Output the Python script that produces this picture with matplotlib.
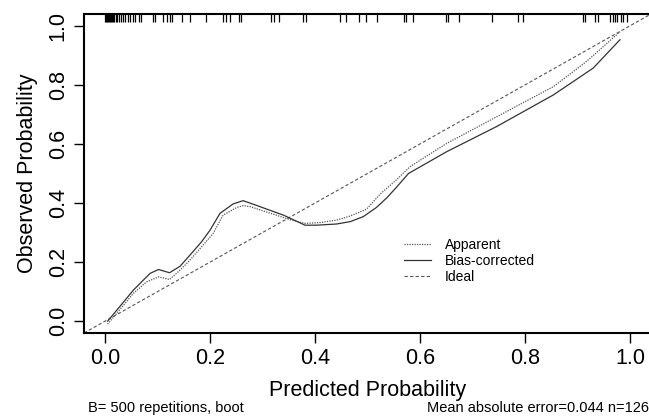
import matplotlib
matplotlib.use("Agg")
import matplotlib.pyplot as plt
from matplotlib.lines import Line2D

plt.rcParams['font.family'] = ['Liberation Sans', 'DejaVu Sans']

# predicted probabilities of the sample (rug along the top)
rug_x = [0.000, 0.002, 0.004, 0.006, 0.008, 0.010, 0.012, 0.014, 0.016,
         0.018, 0.020, 0.022,
         0.026, 0.030, 0.034, 0.038, 0.043, 0.048, 0.053, 0.058, 0.064, 0.068,
         0.091, 0.095, 0.111, 0.118, 0.123, 0.128, 0.147, 0.161, 0.193,
         0.225, 0.230, 0.239, 0.256, 0.259, 0.317, 0.321, 0.331, 0.378, 0.382,
         0.447, 0.459, 0.484, 0.498, 0.518, 0.569, 0.574, 0.586, 0.650, 0.654,
         0.675, 0.737, 0.786, 0.796, 0.911, 0.914, 0.934, 0.939, 0.962, 0.967,
         0.971, 0.975, 0.983, 0.986, 0.995]

# apparent calibration curve
app_x = [0.005, 0.054, 0.079, 0.102, 0.123, 0.143, 0.162, 0.187, 0.206, 0.225,
         0.251, 0.263, 0.276, 0.352, 0.381, 0.410, 0.441, 0.467, 0.498, 0.524,
         0.556, 0.581, 0.651, 0.746, 0.854, 0.917, 0.981]
app_y = [-0.010, 0.094, 0.133, 0.150, 0.141, 0.173, 0.207, 0.258, 0.297, 0.359,
         0.385, 0.391, 0.388, 0.344, 0.331, 0.334, 0.342, 0.356, 0.379, 0.430,
         0.480, 0.523, 0.602, 0.692, 0.794, 0.879, 0.980]

# bias-corrected calibration curve
bc_x = [0.005, 0.054, 0.073, 0.086, 0.102, 0.123, 0.143, 0.162, 0.184, 0.200,
        0.219, 0.244, 0.263, 0.276, 0.340, 0.381, 0.403, 0.441, 0.467, 0.492,
        0.517, 0.537, 0.556, 0.578, 0.651, 0.746, 0.854, 0.930, 0.981]
bc_y = [0.000, 0.105, 0.139, 0.162, 0.175, 0.164, 0.186, 0.224, 0.269, 0.308,
        0.365, 0.397, 0.408, 0.400, 0.359, 0.325, 0.325, 0.329, 0.337, 0.354,
        0.385, 0.418, 0.455, 0.500, 0.574, 0.659, 0.766, 0.857, 0.953]

ticks = [0.0, 0.2, 0.4, 0.6, 0.8, 1.0]
tick_labels = ["0.0", "0.2", "0.4", "0.6", "0.8", "1.0"]

fig = plt.figure(figsize=(6.49, 4.2), dpi=100)
ax = fig.add_axes([84 / 649, 87 / 420, 567 / 649, 319 / 420])
ax.set_xlim(-0.04, 1.04)
ax.set_ylim(-0.04, 1.04)

# ideal line across the whole region
ax.axline((0, 0), slope=1, color='#555555', linestyle=(0, (3, 2)), linewidth=0.8)
ax.plot(app_x, app_y, color='#555555', linestyle=(0, (1, 1)), linewidth=0.9)
ax.plot(bc_x, bc_y, color='#333333', linestyle='-', linewidth=0.9)

# rug
ax.vlines(rug_x, 0.975, 1.0, transform=ax.get_xaxis_transform(),
          color='black', linewidth=0.9)

for s in ax.spines.values():
    s.set_linewidth(1.5)
ax.set_xticks(ticks)
ax.set_xticklabels(tick_labels)
ax.set_yticks(ticks)
ax.set_yticklabels(tick_labels, rotation=90, va='center')
ax.tick_params(direction='out', length=7, width=1, labelsize=15.5, pad=4)

ax.set_xlabel("Predicted Probability", fontsize=15.5, labelpad=8)
ax.set_ylabel("Observed Probability", fontsize=15.5, labelpad=7)

handles = [Line2D([], [], color='#555555', linestyle=(0, (1, 1)), linewidth=0.9),
           Line2D([], [], color='#333333', linestyle='-', linewidth=0.9),
           Line2D([], [], color='#555555', linestyle=(0, (3, 2)), linewidth=0.8)]
ax.legend(handles, ["Apparent", "Bias-corrected", "Ideal"], frameon=False,
          fontsize=10, handlelength=2.0, handletextpad=1.0, labelspacing=0.15,
          loc='upper left', bbox_to_anchor=((397 - 84 - 6) / 567, (333 - 225) / 319))

fig.text(88 / 649, 1 - 408 / 420, "B= 500 repetitions, boot", fontsize=10.5,
         ha='left', va='center')
fig.text(649 / 649, 1 - 408 / 420, "Mean absolute error=0.044 n=126", fontsize=10.5,
         ha='right', va='center')

fig.savefig("out.png", dpi=100)
